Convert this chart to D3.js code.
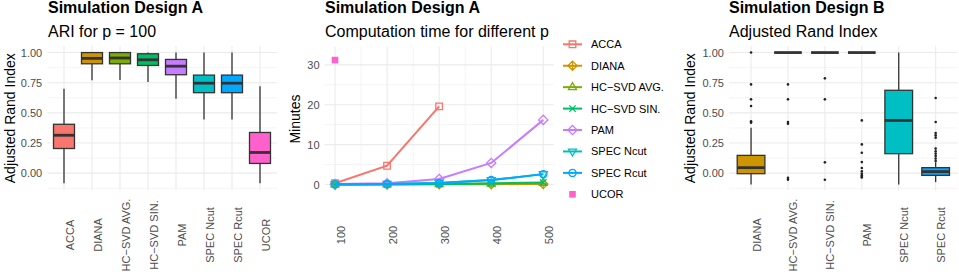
<!DOCTYPE html>
<html>
<head>
<meta charset="utf-8">
<script src="https://cdn.jsdelivr.net/npm/d3@7"></script>
<style>
  html, body { margin: 0; padding: 0; background: #fff; }
  svg { display: block; font-family: "Liberation Sans", Arial, Helvetica, sans-serif; }
</style>
</head>
<body>
<div id="chart"></div>
<script>
// ---- data ----------------------------------------------------------------
const methods_a = ["ACCA", "DIANA", "HC−SVD AVG.", "HC−SVD SIN.", "PAM", "SPEC Ncut", "SPEC Rcut", "UCOR"];
const colors_a = ["#F8766D", "#CD9600", "#7CAE00", "#00BE67", "#C77CFF", "#00BFC4", "#00A9FF", "#FF61CC"];
// ARI for p = 100 (box stats)
const ari_a_low = [-0.085, 0.77, 0.773, 0.755, 0.617, 0.444, 0.444, -0.085];
const ari_a_q1 = [0.204, 0.907, 0.907, 0.893, 0.816, 0.667, 0.667, 0.08];
const ari_a_med = [0.314, 0.952, 0.955, 0.94, 0.887, 0.746, 0.746, 0.171];
const ari_a_q3 = [0.405, 1.0, 1.0, 0.99, 0.943, 0.813, 0.813, 0.337];
const ari_a_high = [0.70, 1.0, 1.0, 1.0, 1.0, 1.0, 1.0, 0.72];

// computation time (minutes) by p
const p_values = [100, 200, 300, 400, 500];
const time_acca = [0.3, 4.7, 19.6, null, null];
const time_diana = [0.02, 0.03, 0.05, 0.08, 0.12];
const time_hc_avg = [0.01, 0.04, 0.1, 0.22, 0.38];
const time_hc_sin = [0.01, 0.05, 0.12, 0.28, 0.5];
const time_pam = [0.1, 0.3, 1.4, 5.4, 16.2];
const time_spec_ncut = [0.05, 0.15, 0.4, 1.1, 2.6];
const time_spec_rcut = [0.05, 0.15, 0.4, 1.1, 2.6];
const time_ucor = [31.2, null, null, null, null];
const time_ticks = [0, 10, 20, 30];

// Design B ARI (box stats + outliers)
const methods_b = ["DIANA", "HC−SVD AVG.", "HC−SVD SIN.", "PAM", "SPEC Ncut", "SPEC Rcut"];
const colors_b = ["#CD9600", "#7CAE00", "#00BE67", "#C77CFF", "#00BFC4", "#00A9FF"];
const ari_b_low = [-0.094, 1.0, 1.0, 1.0, -0.094, -0.075];
const ari_b_q1 = [-0.005, 1.0, 1.0, 1.0, 0.161, -0.019];
const ari_b_med = [0.045, 1.0, 1.0, 1.0, 0.437, 0.012];
const ari_b_q3 = [0.147, 1.0, 1.0, 1.0, 0.687, 0.045];
const ari_b_high = [0.377, 1.0, 1.0, 1.0, 1.0, 0.09];
const ari_b_outliers = [
  [1.0, 0.736, 0.612, 0.557, 0.43, 0.418],
  [0.736, 0.612, 0.424, 0.41, -0.04, -0.055],
  [0.786, 0.612, 0.089, -0.055],
  [0.437, 0.238, 0.169, 0.091, 0.042, 0.014, -0.005, -0.019, -0.03, -0.037],
  [],
  [0.623, 0.424, 0.332, 0.313, 0.294, 0.203, 0.18, 0.161, 0.141, 0.12, 0.1],
];
const ari_ticks = [0, 0.25, 0.5, 0.75, 1.0];

// ---- setup ---------------------------------------------------------------
const width = 959;
const height = 275;

const svg = d3
  .select("#chart")
  .append("svg")
  .attr("width", width)
  .attr("height", height);

const style = {
  grid_color: "#EBEBEB",
  grid_major: 1.1,
  grid_minor: 0.55,
  tick_color: "#4D4D4D",
  tick_size: 11,
  title_size: 16,
  axis_title_size: 14,
  box_stroke: "#333333",
  box_stroke_width: 1.3,
  median_width: 2.8,
  label_center_y: 235,
  label_offset: 9,
};

const panel_a = { x0: 47.2, x1: 276.8, y0: 46, y1: 190.5, y_title_x: 15 };
const panel_t = { x0: 324.6, x1: 553.7, y0: 46.5, y1: 191.6, y_title_x: 300 };
const panel_b = { x0: 728.9, x1: 957.8, y0: 46, y1: 190.5, y_title_x: 695 };

function draw_titles(title, subtitle, x) {
  svg
    .append("text")
    .attr("x", x)
    .attr("y", 13)
    .attr("font-size", style.title_size)
    .attr("font-weight", "bold")
    .attr("fill", "#000")
    .text(title);
  svg
    .append("text")
    .attr("x", x)
    .attr("y", 36.5)
    .attr("font-size", style.title_size)
    .attr("fill", "#000")
    .text(subtitle);
}

function draw_y_title(text, panel) {
  svg
    .append("text")
    .attr(
      "transform",
      `translate(${panel.y_title_x}, ${(panel.y0 + panel.y1) / 2}) rotate(-90)`
    )
    .attr("text-anchor", "middle")
    .attr("font-size", style.axis_title_size)
    .attr("fill", "#000")
    .text(text);
}

function draw_y_axis(Y, ticks, fmt, panel) {
  svg
    .append("g")
    .attr("transform", `translate(${panel.x0}, 0)`)
    .call(d3.axisLeft(Y).tickValues(ticks).tickSize(0).tickPadding(5).tickFormat(fmt))
    .call((g) => g.select(".domain").remove())
    .call((g) =>
      g
        .selectAll("text")
        .attr("font-family", null)
        .attr("font-size", style.tick_size)
        .attr("fill", style.tick_color)
    );
}

function draw_x_axis(X, panel, fmt) {
  const axis = d3.axisBottom(X).tickSize(0);
  if (fmt) axis.tickValues(p_values).tickFormat(fmt);
  svg
    .append("g")
    .attr("transform", `translate(0, ${panel.y1})`)
    .call(axis)
    .call((g) => g.select(".domain").remove())
    .call((g) =>
      g
        .selectAll("text")
        .attr("y", 0)
        .attr("dy", 0)
        .attr(
          "transform",
          `translate(${style.label_offset}, ${style.label_center_y - panel.y1}) rotate(-90)`
        )
        .attr("text-anchor", "middle")
        .attr("font-family", null)
        .attr("font-size", style.tick_size)
        .attr("fill", style.tick_color)
    );
}

function grid_h(Y, values, panel, w) {
  svg
    .append("g")
    .selectAll("line")
    .data(values)
    .join("line")
    .attr("x1", panel.x0)
    .attr("x2", panel.x1)
    .attr("y1", (d) => Y(d))
    .attr("y2", (d) => Y(d))
    .attr("stroke", style.grid_color)
    .attr("stroke-width", w);
}

function grid_v(xs, panel, w) {
  svg
    .append("g")
    .selectAll("line")
    .data(xs)
    .join("line")
    .attr("x1", (d) => d)
    .attr("x2", (d) => d)
    .attr("y1", panel.y0)
    .attr("y2", panel.y1)
    .attr("stroke", style.grid_color)
    .attr("stroke-width", w);
}

// ---- box plot panels ---------------------------------------------------------
function draw_box_panel(panel, methods, colors, low, q1, med, q3, high, outliers) {
  const X = d3.scalePoint().domain(methods).range([panel.x0, panel.x1]).padding(0.6);
  const Y = d3.scaleLinear().domain([-0.1445, 1.0545]).range([panel.y1, panel.y0]);

  grid_h(Y, [-0.125, 0.125, 0.375, 0.625, 0.875], panel, style.grid_minor);
  grid_h(Y, ari_ticks, panel, style.grid_major);
  grid_v(methods.map((m) => X(m)), panel, style.grid_major);

  const box_w = X.step() * 0.75;
  const stats = methods.map((m, i) => ({
    m, color: colors[i], low: low[i], q1: q1[i], med: med[i], q3: q3[i], high: high[i],
    outliers: outliers ? outliers[i] : [],
  }));

  const boxes = svg
    .append("g")
    .selectAll("g.box")
    .data(stats)
    .join("g")
    .classed("box", true)
    .attr("transform", (d) => `translate(${X(d.m)}, 0)`);

  boxes
    .append("line")
    .attr("y1", (d) => Y(d.high))
    .attr("y2", (d) => Y(d.q3))
    .attr("stroke", style.box_stroke)
    .attr("stroke-width", style.box_stroke_width);
  boxes
    .append("line")
    .attr("y1", (d) => Y(d.q1))
    .attr("y2", (d) => Y(d.low))
    .attr("stroke", style.box_stroke)
    .attr("stroke-width", style.box_stroke_width);
  boxes
    .append("rect")
    .attr("x", -box_w / 2)
    .attr("width", box_w)
    .attr("y", (d) => Y(d.q3))
    .attr("height", (d) => Y(d.q1) - Y(d.q3))
    .attr("fill", (d) => d.color)
    .attr("stroke", style.box_stroke)
    .attr("stroke-width", style.box_stroke_width);
  boxes
    .append("line")
    .attr("x1", -box_w / 2)
    .attr("x2", box_w / 2)
    .attr("y1", (d) => Y(d.med))
    .attr("y2", (d) => Y(d.med))
    .attr("stroke", style.box_stroke)
    .attr("stroke-width", style.median_width);
  boxes
    .selectAll("circle")
    .data((d) => d.outliers)
    .join("circle")
    .attr("cy", (d) => Y(d))
    .attr("r", 1.3)
    .attr("fill", "#222");

  draw_y_axis(Y, ari_ticks, d3.format(".2f"), panel);
  draw_x_axis(X, panel);
}

draw_titles("Simulation Design A", "ARI for p = 100", 48);
draw_box_panel(panel_a, methods_a, colors_a, ari_a_low, ari_a_q1, ari_a_med, ari_a_q3, ari_a_high, null);
draw_y_title("Adjusted Rand Index", panel_a);

draw_titles("Simulation Design B", "Adjusted Rand Index", 729);
draw_box_panel(panel_b, methods_b, colors_b, ari_b_low, ari_b_q1, ari_b_med, ari_b_q3, ari_b_high, ari_b_outliers);
draw_y_title("Adjusted Rand Index", panel_b);

// ---- computation time panel ------------------------------------------------
function marker_path(shape) {
  const p = d3.path();
  const s = 3.3;
  const dm = 4.6;
  if (shape === "square" || shape === "square_filled") {
    p.rect(-s, -s, 2 * s, 2 * s);
  } else if (shape === "diamond" || shape === "diamond_plus") {
    p.moveTo(0, -dm); p.lineTo(dm, 0); p.lineTo(0, dm); p.lineTo(-dm, 0); p.closePath();
    if (shape === "diamond_plus") {
      p.moveTo(0, -dm); p.lineTo(0, dm); p.moveTo(-dm, 0); p.lineTo(dm, 0);
    }
  } else if (shape === "triangle") {
    p.moveTo(0, -4.6); p.lineTo(4, 2.4); p.lineTo(-4, 2.4); p.closePath();
  } else if (shape === "triangle_down") {
    p.moveTo(0, 4.6); p.lineTo(4, -2.4); p.lineTo(-4, -2.4); p.closePath();
  } else if (shape === "x") {
    p.moveTo(-3.2, -3.2); p.lineTo(3.2, 3.2); p.moveTo(-3.2, 3.2); p.lineTo(3.2, -3.2);
  } else if (shape === "circle") {
    p.moveTo(3.6, 0); p.arc(0, 0, 3.6, 0, 2 * Math.PI);
  }
  return p.toString();
}

const time_series = [
  { name: "ACCA", values: time_acca, color: colors_a[0], shape: "square" },
  { name: "DIANA", values: time_diana, color: colors_a[1], shape: "diamond_plus" },
  { name: "HC−SVD AVG.", values: time_hc_avg, color: colors_a[2], shape: "triangle" },
  { name: "HC−SVD SIN.", values: time_hc_sin, color: colors_a[3], shape: "x" },
  { name: "PAM", values: time_pam, color: colors_a[4], shape: "diamond" },
  { name: "SPEC Ncut", values: time_spec_ncut, color: colors_a[5], shape: "triangle_down" },
  { name: "SPEC Rcut", values: time_spec_rcut, color: colors_a[6], shape: "circle" },
  { name: "UCOR", values: time_ucor, color: colors_a[7], shape: "square_filled" },
];

function draw_time_panel(panel) {
  const X = d3.scaleLinear().domain([80, 520]).range([panel.x0, panel.x1]);
  const Y = d3.scaleLinear().domain([-1.78, 34.6]).range([panel.y1, panel.y0]);

  grid_h(Y, [5, 15, 25], panel, style.grid_minor);
  grid_h(Y, time_ticks, panel, style.grid_major);
  grid_v([150, 250, 350, 450].map((d) => X(d)), panel, style.grid_minor);
  grid_v(p_values.map((d) => X(d)), panel, style.grid_major);

  const line = d3
    .line()
    .defined((d) => d != null)
    .x((d, i) => X(p_values[i]))
    .y((d) => Y(d));

  const series_g = svg
    .append("g")
    .selectAll("g.series")
    .data(time_series)
    .join("g")
    .classed("series", true);

  series_g
    .filter((d) => d.shape !== "square_filled")
    .append("path")
    .attr("d", (d) => line(d.values))
    .attr("fill", "none")
    .attr("stroke", (d) => d.color)
    .attr("stroke-width", 2);

  series_g.each(function (s) {
    const pts = s.values
      .map((v, i) => ({ v, p: p_values[i] }))
      .filter((d) => d.v != null);
    d3.select(this)
      .selectAll("path.marker")
      .data(pts)
      .join("path")
      .classed("marker", true)
      .attr("transform", (d) => `translate(${X(d.p)}, ${Y(d.v)})`)
      .attr("d", marker_path(s.shape))
      .attr("fill", s.shape === "square_filled" ? s.color : "none")
      .attr("stroke", s.shape === "square_filled" ? "none" : s.color)
      .attr("stroke-width", 1.3);
  });

  draw_y_axis(Y, time_ticks, d3.format("d"), panel);
  draw_x_axis(X, panel, d3.format("d"));
}

draw_titles("Simulation Design A", "Computation time for different p", 325);
draw_time_panel(panel_t);
draw_y_title("Minutes", panel_t);

// legend
const legend = svg
  .append("g")
  .selectAll("g.key")
  .data(time_series)
  .join("g")
  .classed("key", true)
  .attr("transform", (d, i) => `translate(563, ${44.3 + i * 21.43})`);

legend
  .filter((d) => d.shape !== "square_filled")
  .append("line")
  .attr("x1", 0)
  .attr("x2", 19)
  .attr("stroke", (d) => d.color)
  .attr("stroke-width", 2);

legend
  .append("path")
  .attr("transform", "translate(9.5, 0)")
  .attr("d", (d) => marker_path(d.shape))
  .attr("fill", (d) => (d.shape === "square_filled" ? d.color : "none"))
  .attr("stroke", (d) => (d.shape === "square_filled" ? "none" : d.color))
  .attr("stroke-width", 1.3);

legend
  .append("text")
  .attr("x", 28)
  .attr("dy", "0.36em")
  .attr("font-size", style.tick_size)
  .attr("fill", "#000")
  .text((d) => d.name);
</script>
</body>
</html>
